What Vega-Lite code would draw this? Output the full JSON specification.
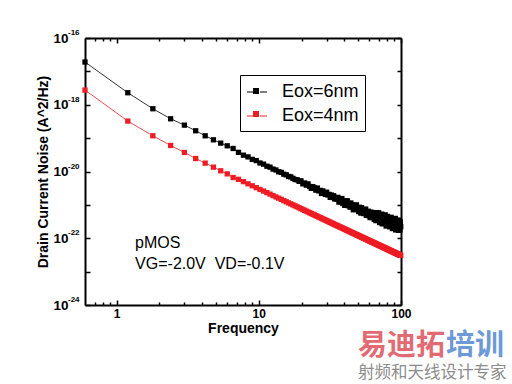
{
"$schema": "https://vega.github.io/schema/vega-lite/v6.json",
"width": 316, "height": 267,
"autosize": "none",
"padding": {"left": 85, "top": 38, "right": 111, "bottom": 79},
"background": "white",
"config": {
  "view": {"stroke": null},
  "font": "Liberation Sans",
  "axis": {"domainColor": "black", "domainWidth": 2, "tickColor": "black", "tickWidth": 1.5, "grid": false, "labelFont": "Liberation Sans", "labelFontWeight": "bold", "labelColor": "black", "titleFont": "Liberation Sans", "titleColor": "black", "titleFontWeight": "bold", "labelOverlap": false, "labelFlush": false}
},
"datasets": {"noise": [
{"f":0.6,"a":1.905e-17,"b":2.75e-18},{"f":1.2,"a":2.29e-18,"b":3.24e-19},{"f":1.8,"a":7.59e-19,"b":1.175e-19},{"f":2.4,"a":3.80e-19,"b":6.03e-20},{"f":3.0,"a":2.45e-19,"b":3.72e-20},{"f":3.6,"a":1.66e-19,"b":2.45e-20},{"f":4.2,"a":1.175e-19,"b":1.78e-20},{"f":4.8,"a":8.91e-20,"b":1.35e-20},{"f":5.4,"a":7.08e-20,"b":1.05e-20},{"f":6.0,"a":5.89e-20,"b":8.5e-21},{"f":6.6,"a":4.90e-20,"b":6.6e-21},
{"f":7.2,"a":3.75e-20,"b":5.83e-21},{"f":7.8,"a":3.08e-20,"b":4.97e-21},{"f":8.4,"a":2.74e-20,"b":4.28e-21},{"f":9.0,"a":2.31e-20,"b":3.73e-21},{"f":9.6,"a":2.12e-20,"b":3.28e-21},{"f":10.2,"a":1.80e-20,"b":2.90e-21},{"f":10.8,"a":1.66e-20,"b":2.59e-21},{"f":11.4,"a":1.44e-20,"b":2.33e-21},{"f":12.0,"a":1.35e-20,"b":2.10e-21},{"f":12.6,"a":1.18e-20,"b":1.90e-21},
{"f":13.2,"a":1.11e-20,"b":1.73e-21},{"f":13.8,"a":9.8e-21,"b":1.59e-21},{"f":14.4,"a":9.40e-21,"b":1.46e-21},{"f":15.0,"a":8.30e-21,"b":1.34e-21},{"f":15.6,"a":7.95e-21,"b":1.24e-21},{"f":16.2,"a":7.10e-21,"b":1.15e-21},{"f":16.8,"a":6.90e-21,"b":1.07e-21},{"f":17.4,"a":6.22e-21,"b":9.98e-22},{"f":18.0,"a":5.75e-21,"b":9.33e-22},{"f":18.6,"a":5.66e-21,"b":8.74e-22},
{"f":19.2,"a":5.08e-21,"b":8.20e-22},{"f":19.8,"a":5.25e-21,"b":7.71e-22},{"f":20.4,"a":4.26e-21,"b":7.26e-22},{"f":21.0,"a":4.54e-21,"b":6.85e-22},{"f":21.6,"a":3.89e-21,"b":6.48e-22},{"f":22.2,"a":4.26e-21,"b":6.13e-22},{"f":22.8,"a":3.56e-21,"b":5.81e-22},{"f":23.4,"a":3.13e-21,"b":5.52e-22},{"f":24.0,"a":3.51e-21,"b":5.25e-22},{"f":24.6,"a":3.21e-21,"b":4.99e-22},
{"f":25.2,"a":2.76e-21,"b":4.76e-22},{"f":25.8,"a":3.20e-21,"b":4.54e-22},{"f":26.4,"a":2.63e-21,"b":4.34e-22},{"f":27.0,"a":2.72e-21,"b":4.15e-22},{"f":27.6,"a":2.20e-21,"b":3.97e-22},{"f":28.2,"a":2.62e-21,"b":3.80e-22},{"f":28.8,"a":2.30e-21,"b":3.64e-22},{"f":29.4,"a":2.06e-21,"b":3.50e-22},{"f":30.0,"a":2.40e-21,"b":3.36e-22},{"f":30.6,"a":1.98e-21,"b":3.23e-22},
{"f":31.2,"a":2.06e-21,"b":3.10e-22},{"f":31.8,"a":1.68e-21,"b":2.99e-22},{"f":32.4,"a":1.97e-21,"b":2.88e-22},{"f":33.0,"a":1.66e-21,"b":2.78e-22},{"f":33.6,"a":1.88e-21,"b":2.68e-22},{"f":34.2,"a":1.50e-21,"b":2.58e-22},{"f":34.8,"a":1.63e-21,"b":2.50e-22},{"f":35.4,"a":1.49e-21,"b":2.41e-22},{"f":36.0,"a":1.68e-21,"b":2.33e-22},{"f":36.6,"a":1.21e-21,"b":2.26e-22},
{"f":37.2,"a":1.52e-21,"b":2.18e-22},{"f":37.8,"a":1.26e-21,"b":2.12e-22},{"f":38.4,"a":1.55e-21,"b":2.05e-22},{"f":39.0,"a":1.10e-21,"b":1.99e-22},{"f":39.6,"a":1.28e-21,"b":1.93e-22},{"f":40.2,"a":9.68e-22,"b":1.87e-22},{"f":40.8,"a":1.32e-21,"b":1.82e-22},{"f":41.4,"a":1.08e-21,"b":1.76e-22},{"f":42.0,"a":1.32e-21,"b":1.71e-22},{"f":42.6,"a":9.45e-22,"b":1.67e-22},
{"f":43.2,"a":1.06e-21,"b":1.62e-22},{"f":43.8,"a":8.55e-22,"b":1.58e-22},{"f":44.4,"a":1.14e-21,"b":1.53e-22},{"f":45.0,"a":8.94e-22,"b":1.49e-22},{"f":45.6,"a":9.90e-22,"b":1.45e-22},{"f":46.2,"a":7.14e-22,"b":1.42e-22},{"f":46.8,"a":9.76e-22,"b":1.38e-22},{"f":47.4,"a":8.49e-22,"b":1.35e-22},{"f":48.0,"a":7.29e-22,"b":1.31e-22},{"f":48.6,"a":1.00e-21,"b":1.28e-22},
{"f":49.2,"a":7.33e-22,"b":1.25e-22},{"f":49.8,"a":8.15e-22,"b":1.22e-22},{"f":50.4,"a":6.31e-22,"b":1.19e-22},{"f":51.0,"a":8.50e-22,"b":1.16e-22},{"f":51.6,"a":7.02e-22,"b":1.14e-22},{"f":52.2,"a":5.67e-22,"b":1.11e-22},{"f":52.8,"a":8.21e-22,"b":1.08e-22},{"f":53.4,"a":6.09e-22,"b":1.06e-22},{"f":54.0,"a":7.00e-22,"b":1.04e-22},{"f":54.6,"a":5.50e-22,"b":1.01e-22},
{"f":55.2,"a":7.07e-22,"b":9.92e-23},{"f":55.8,"a":5.82e-22,"b":9.71e-23},{"f":56.4,"a":7.49e-22,"b":9.50e-23},{"f":57.0,"a":4.87e-22,"b":9.30e-23},{"f":57.6,"a":5.87e-22,"b":9.11e-23},{"f":58.2,"a":5.07e-22,"b":8.92e-23},{"f":58.8,"a":6.45e-22,"b":8.74e-23},{"f":59.4,"a":4.76e-22,"b":8.57e-23},{"f":60.0,"a":5.57e-22,"b":8.40e-23},{"f":60.6,"a":4.17e-22,"b":8.23e-23},
{"f":61.2,"a":6.10e-22,"b":8.07e-23},{"f":61.8,"a":4.76e-22,"b":7.91e-23},{"f":62.4,"a":5.48e-22,"b":7.76e-23},{"f":63.0,"a":4.17e-22,"b":7.61e-23},{"f":63.6,"a":5.89e-22,"b":7.47e-23},{"f":64.2,"a":4.63e-22,"b":7.33e-23},{"f":64.8,"a":3.71e-22,"b":7.20e-23},{"f":65.4,"a":5.28e-22,"b":7.07e-23},{"f":66.0,"a":4.57e-22,"b":6.94e-23},{"f":66.6,"a":3.38e-22,"b":6.81e-23},
{"f":67.2,"a":5.77e-22,"b":6.69e-23},{"f":67.8,"a":4.03e-22,"b":6.57e-23},{"f":68.4,"a":4.97e-22,"b":6.46e-23},{"f":69.0,"a":3.42e-22,"b":6.35e-23},{"f":69.6,"a":5.81e-22,"b":6.24e-23},{"f":70.2,"a":3.95e-22,"b":6.13e-23},{"f":70.8,"a":2.95e-22,"b":6.03e-23},{"f":71.4,"a":4.94e-22,"b":5.93e-23},{"f":72.0,"a":4.20e-22,"b":5.83e-23},{"f":72.6,"a":3.28e-22,"b":5.73e-23},
{"f":73.2,"a":5.28e-22,"b":5.64e-23},{"f":73.8,"a":2.70e-22,"b":5.55e-23},{"f":74.4,"a":4.20e-22,"b":5.46e-23},{"f":75.0,"a":3.38e-22,"b":5.37e-23},{"f":75.6,"a":4.76e-22,"b":5.29e-23},{"f":76.2,"a":2.86e-22,"b":5.20e-23},{"f":76.8,"a":3.70e-22,"b":5.12e-23},{"f":77.4,"a":5.03e-22,"b":5.04e-23},{"f":78.0,"a":3.03e-22,"b":4.97e-23},{"f":78.6,"a":2.32e-22,"b":4.89e-23},
{"f":79.2,"a":4.11e-22,"b":4.82e-23},{"f":79.8,"a":3.35e-22,"b":4.75e-23},{"f":80.4,"a":4.52e-22,"b":4.68e-23},{"f":81.0,"a":2.56e-22,"b":4.61e-23},{"f":81.6,"a":3.60e-22,"b":4.54e-23},{"f":82.2,"a":2.90e-22,"b":4.47e-23},{"f":82.8,"a":4.08e-22,"b":4.41e-23},{"f":83.4,"a":2.20e-22,"b":4.35e-23},{"f":84.0,"a":3.57e-22,"b":4.28e-23},{"f":84.6,"a":2.94e-22,"b":4.22e-23},
{"f":85.2,"a":4.24e-22,"b":4.16e-23},{"f":85.8,"a":2.48e-22,"b":4.11e-23},{"f":86.4,"a":3.20e-22,"b":4.05e-23},{"f":87.0,"a":1.95e-22,"b":3.99e-23},{"f":87.6,"a":3.62e-22,"b":3.94e-23},{"f":88.2,"a":2.68e-22,"b":3.88e-23},{"f":88.8,"a":3.85e-22,"b":3.83e-23},{"f":89.4,"a":2.17e-22,"b":3.78e-23},{"f":90.0,"a":3.10e-22,"b":3.73e-23},{"f":90.6,"a":2.47e-22,"b":3.68e-23},
{"f":91.2,"a":3.93e-22,"b":3.63e-23},{"f":91.8,"a":1.78e-22,"b":3.59e-23},{"f":92.4,"a":3.21e-22,"b":3.54e-23},{"f":93.0,"a":2.63e-22,"b":3.49e-23},{"f":93.6,"a":1.99e-22,"b":3.45e-23},{"f":94.2,"a":3.44e-22,"b":3.41e-23},{"f":94.8,"a":2.27e-22,"b":3.36e-23},{"f":95.4,"a":2.95e-22,"b":3.32e-23},{"f":96.0,"a":1.73e-22,"b":3.28e-23},{"f":96.6,"a":3.47e-22,"b":3.24e-23},
{"f":97.2,"a":2.36e-22,"b":3.20e-23},{"f":97.8,"a":2.72e-22,"b":3.16e-23},{"f":98.4,"a":1.80e-22,"b":3.12e-23},{"f":99.0,"a":3.11e-22,"b":3.08e-23},{"f":99.6,"a":2.23e-22,"b":3.05e-23}
],
"exps": [{"v":1e-16,"e":"-16"},{"v":1e-18,"e":"-18"},{"v":1e-20,"e":"-20"},{"v":1e-22,"e":"-22"},{"v":1e-24,"e":"-24"}]
},
"resolve": {"axis": {"x": "independent", "y": "independent"}, "legend": {"color": "independent", "fill": "independent"}},
"layer": [
{
  "data": {"name": "noise"},
  "transform": [{"fold": ["a", "b"], "as": ["s", "v"]}],
  "mark": {"type": "line", "strokeWidth": 0.8},
  "encoding": {
    "x": {"field": "f", "type": "quantitative", "scale": {"type": "log", "domain": [0.6, 100], "nice": false},
      "axis": {"orient": "bottom", "values": [0.7,0.8,0.9,1,2,3,4,5,6,7,8,9,10,20,30,40,50,60,70,80,90,100],
        "labelExpr": "datum.value==1||datum.value==10||datum.value==100 ? format(datum.value,'d') : ''",
        "tickSize": {"condition": {"test": "datum.value==1||datum.value==10||datum.value==100", "value": -5}, "value": -3},
        "labelFontSize": 12, "labelPadding": 8, "title": "Frequency", "titleFontSize": 14, "titlePadding": 0}},
    "y": {"field": "v", "type": "quantitative", "scale": {"type": "log", "domain": [1e-24, 1e-16], "nice": false},
      "axis": {"orient": "left", "values": [1e-24,1e-23,1e-22,1e-21,1e-20,1e-19,1e-18,1e-17,1e-16],
        "labelExpr": "abs(round(log(datum.value)/LN10)) % 2 == 0 ? '10' : ''",
        "tickSize": -5, "labelFontSize": 13.5, "labelPadding": 22, "title": "Drain Current Noise (A^2/Hz)", "titleFontSize": 14, "titlePadding": 2}},
    "color": {"field": "s", "type": "nominal", "scale": {"domain": ["a", "b"], "range": ["#000000", "#ee1c24"]},
      "legend": {"orient": "none", "legendX": 155, "legendY": 37, "direction": "vertical", "title": null,
        "labelExpr": "datum.value=='a' ? 'Eox=6nm' : 'Eox=4nm'",
        "labelFont": "Liberation Sans", "labelFontSize": 18, "labelColor": "black", "labelOffset": 14,
        "symbolType": "M-1,0H-0.3M0.3,0H1", "symbolSize": 400, "symbolStrokeWidth": 1.2,
        "padding": 6, "rowPadding": 4, "strokeColor": "black", "fillColor": "white"}}
  }
},
{
  "data": {"name": "noise"},
  "transform": [{"fold": ["a", "b"], "as": ["s", "v"]}],
  "mark": {"type": "point", "shape": "square", "filled": true, "size": 28, "opacity": 1},
  "encoding": {
    "x": {"field": "f", "type": "quantitative",
      "axis": {"orient": "top", "values": [0.7,0.8,0.9,1,2,3,4,5,6,7,8,9,10,20,30,40,50,60,70,80,90,100], "labels": false, "title": null,
        "tickSize": {"condition": {"test": "datum.value==1||datum.value==10||datum.value==100", "value": -5}, "value": -3}}},
    "y": {"field": "v", "type": "quantitative",
      "axis": {"orient": "right", "values": [1e-24,1e-23,1e-22,1e-21,1e-20,1e-19,1e-18,1e-17,1e-16], "labels": false, "title": null, "tickSize": -4}},
    "fill": {"field": "s", "type": "nominal", "scale": {"domain": ["a", "b"], "range": ["#000000", "#ee1c24"]},
      "legend": {"orient": "none", "legendX": 155, "legendY": 37, "direction": "vertical", "title": null,
        "labelExpr": "''",
        "labelFont": "Liberation Sans", "labelFontSize": 18, "labelOffset": 14,
        "symbolType": "M-0.3,-0.3H0.3V0.3H-0.3Z", "symbolSize": 400, "symbolStrokeWidth": 0,
        "padding": 6, "rowPadding": 4}}
  }
},
{
  "data": {"name": "exps"},
  "mark": {"type": "text", "align": "left", "baseline": "middle", "fontSize": 8, "fontWeight": "bold", "font": "Liberation Sans", "color": "black", "dx": -17, "dy": -5},
  "encoding": {"x": {"datum": 0.6, "type": "quantitative", "axis": null}, "y": {"field": "v", "type": "quantitative", "axis": null}, "text": {"field": "e"}}
},
{
  "data": {"values": [{}]},
  "mark": {"type": "text", "text": "pMOS", "align": "left", "baseline": "middle", "fontSize": 16, "font": "Liberation Sans", "color": "black"},
  "encoding": {"x": {"datum": 1.35, "type": "quantitative", "axis": null}, "y": {"datum": 7.2e-23, "type": "quantitative", "axis": null}}
},
{
  "data": {"values": [{}]},
  "mark": {"type": "text", "text": "VG=-2.0V\u00a0\u00a0VD=-0.1V", "align": "left", "baseline": "middle", "fontSize": 16, "font": "Liberation Sans", "color": "black"},
  "encoding": {"x": {"datum": 1.35, "type": "quantitative", "axis": null}, "y": {"datum": 1.7e-23, "type": "quantitative", "axis": null}}
},
{
  "data": {"values": [{}]},
  "mark": {"type": "text", "text": "易迪拓", "align": "left", "baseline": "middle", "fontSize": 29, "fontWeight": "bold", "font": "Noto Sans CJK SC", "color": "#e26a73", "dx": -43, "dy": 41},
  "encoding": {"x": {"datum": 100, "type": "quantitative", "axis": null}, "y": {"datum": 1e-24, "type": "quantitative", "axis": null}}
},
{
  "data": {"values": [{}]},
  "mark": {"type": "text", "text": "培训", "align": "left", "baseline": "middle", "fontSize": 29, "fontWeight": "bold", "font": "Noto Sans CJK SC", "color": "#6d9ad6", "dx": 45, "dy": 41},
  "encoding": {"x": {"datum": 100, "type": "quantitative", "axis": null}, "y": {"datum": 1e-24, "type": "quantitative", "axis": null}}
},
{
  "data": {"values": [{}]},
  "mark": {"type": "text", "text": "射频和天线设计专家", "align": "left", "baseline": "middle", "fontSize": 16.5, "font": "Noto Sans CJK SC", "color": "#8c8c8c", "dx": -43, "dy": 68},
  "encoding": {"x": {"datum": 100, "type": "quantitative", "axis": null}, "y": {"datum": 1e-24, "type": "quantitative", "axis": null}}
}
]
}
